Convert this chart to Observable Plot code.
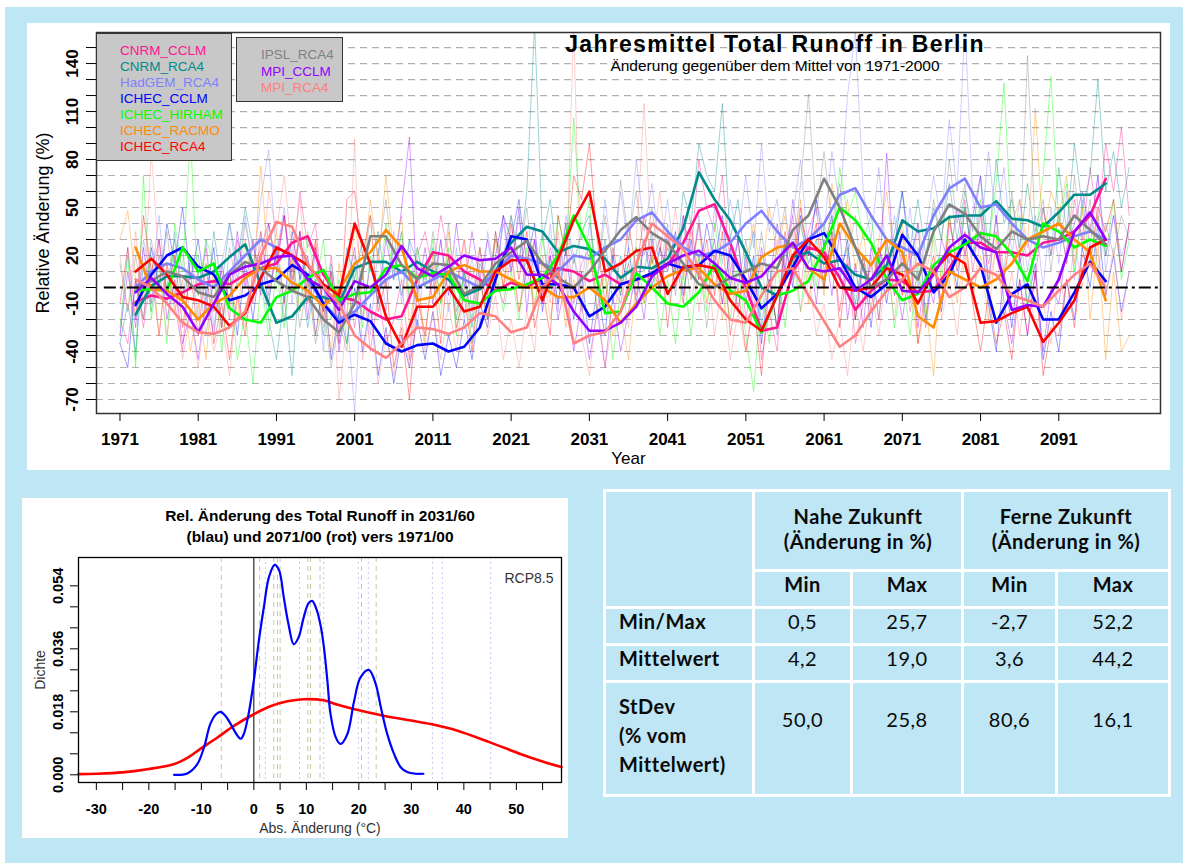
<!DOCTYPE html>
<html><head><meta charset="utf-8">
<script src="https://cdn.jsdelivr.net/npm/d3@7"></script>
<script src="https://cdn.jsdelivr.net/npm/@observablehq/plot@0.6"></script>
<style>
body{margin:0;background:#fff;width:1183px;height:863px;position:relative;overflow:hidden;font-family:"Liberation Sans",Arial,sans-serif}
#bg{position:absolute;left:5px;top:7px;width:1178px;height:856px;background:#bfe6f5}
#topPanel{position:absolute;left:27px;top:23px;width:1143px;height:447px;background:#fff}
#botPanel{position:absolute;left:22px;top:498px;width:546px;height:340px;background:#fff}
.leg{position:absolute;background:#c8c8c8;border:1.5px solid #333;box-sizing:border-box}
.legt{position:absolute;font-size:13.5px;line-height:13.5px;white-space:nowrap}
.ttl{position:absolute;text-align:center;white-space:nowrap;color:#000}
#tbl{position:absolute;left:603px;top:489px;width:568px;height:308px;background:#fff}
.cell{position:absolute;background:#bfe6f5;font-family:Lato,"Noto Sans",sans-serif;font-size:20px;letter-spacing:0.5px;color:#0a0a0a;display:flex;align-items:center;justify-content:center;text-align:center;box-sizing:border-box;white-space:pre-line}
</style></head>
<body>
<div id="bg"></div>
<div id="topPanel"></div>
<div id="botPanel"></div>
<div id="tbl"></div>
<script>
// ---------- top chart data ----------
const models = ["CNRM_CCLM","CNRM_RCA4","HadGEM_RCA4","ICHEC_CCLM","ICHEC_HIRHAM","ICHEC_RACMO","ICHEC_RCA4","IPSL_RCA4","MPI_CCLM","MPI_RCA4"];
const colors = ["#ff1493","#008b8b","#8080ff","#0000ff","#00ff00","#ff8c00","#ff0000","#808080","#9400ff","#ff8080"];
const thinYears = d3.range(1971, 2101);
const smoothYears = d3.range(1973, 2098, 2);
const yGrid = [-70,-60,-50,-40,-30,-20,-10,0,10,20,30,40,50,60,70,80,90,100,110,120,130,140,150];
const yLabels = [-70,-40,-10,20,50,80,110,140];
const xTicks = [1971,1981,1991,2001,2011,2021,2031,2041,2051,2061,2071,2081,2091];

const thinCnrmCclm = [-20,-35,5,-25,10,-30,15,-10,-40,20, -5,25,-15,10,-20,30,5,-10,35,0, 20,45,10,60,25,40,-15,20,-30,5, -25,10,-40,-5,-35,-20,5,-45,20,35, 10,45,20,0,30,-15,25,-20,5,-10, 20,-15,10,30,-5,25,5,40,-10,15, 25,-15,20,0,-10,15,-5,30,10,0, 30,15,45,20,80,50,35,70,10,30, -20,15,-45,-15,-40,20,45,0,35,50, 10,30,-15,20,-35,-10,15,-20,30,-5, 20,-15,10,-25,15,-10,40,20,55,10, 45,15,35,5,40,15,30,5,50,20, 45,15,55,30,75,40,90,60,100,45];
const thinCnrmRca4 = [-35,-10,-40,15,-15,20,0,30,-10,15, 20,-15,35,0,40,15,50,25,10,-20, -45,-5,-55,10,-25,5,-30,15,-20,25, 5,30,10,35,0,25,-5,30,15,5, 25,-10,20,-20,10,-25,15,0,30,20, 45,15,60,165,30,55,10,40,15,35, 45,5,30,-10,20,0,25,10,35,-5, 25,10,60,40,90,70,60,115,30,55, 10,35,-25,15,-30,25,5,40,15,30, 0,35,10,25,-10,20,-5,25,10,35, 60,25,55,20,50,30,65,30,60,35, 70,25,80,40,55,25,65,30,50,20, 75,35,90,50,70,130,60,85,50,75];
const thinHadgemRca4 = [-30,25,-45,30,5,45,-10,35,-5,20, -20,30,-25,15,40,5,45,10,55,86, 20,50,-10,35,0,25,-40,10,-35,-15, -78,10,-30,25,-15,35,-10,30,-25,15, 0,30,-15,25,-20,20,-25,35,5,40, 10,45,0,30,-10,40,-15,45,20,0, 40,5,55,15,60,25,80,35,65,20, 55,10,40,5,45,0,50,15,55,30, 70,25,90,35,55,10,45,80,20,55, 35,85,50,120,160,60,30,75,15,45, 10,50,0,35,70,40,105,60,165,55, 30,85,40,75,20,55,10,45,0,50, 15,60,5,55,25,70,10,45,20,35];
const thinIchecCclm = [-35,-50,5,-20,25,0,40,15,50,5, 30,-5,25,-25,10,-30,15,-20,20,-10, 25,-10,35,5,20,-30,5,-45,-15,-35, 0,-40,-10,-55,-25,-60,-30,-50,-20,-45, -15,-55,-30,-50,-20,-45,-10,-25,20,45, 30,55,15,40,-15,20,-10,25,-20,10, -35,0,-30,20,-5,25,-10,30,0,25, 10,35,-5,30,5,40,15,45,0,30, -10,20,-35,5,-25,30,0,45,20,55, 25,45,5,30,-20,15,-25,20,-10,25, 60,15,40,-20,15,-15,25,0,50,20, 35,-10,-40,10,-25,20,-10,15,-45,-15, -40,5,-20,25,0,40,-5,20,-15,10];
const thinIchecHirham = [-25,20,-50,70,-20,15,-35,40,10,95, -5,30,15,-40,10,-45,-15,-60,5,-30, 10,-25,20,-15,35,0,30,-20,5,-35, 15,-25,20,-10,40,5,35,-5,25,0, 30,-10,25,-30,10,-35,5,-20,15,-15, 10,-20,25,-15,30,0,45,20,106,30, 55,-20,10,-45,0,15,25,-10,20,-30, 5,-35,10,-30,20,-15,40,10,-20,15, -30,-65,0,-35,15,-25,20,-15,30,0, 40,20,75,45,60,30,45,5,25,-25, 10,-30,15,-20,35,5,45,15,50,20, 55,25,65,128,30,45,-15,30,70,132, 40,65,10,50,15,45,20,55,5,30];
const thinIchecRacmo = [30,48,5,-20,20,-30,15,-15,5,-40, -10,-45,15,-25,10,-20,30,0,76,10, 35,-10,20,-15,5,-30,-5,-40,15,-20, 40,5,55,15,70,20,45,-25,10,-35, 20,-20,35,0,30,5,25,-5,30,0, 25,-15,20,-10,15,-20,10,-25,5,-15, 20,-5,10,-30,-15,-45,5,-10,20,-5, 30,0,25,5,40,-10,20,-20,10,-15, 15,40,5,50,20,45,10,55,-10,25, -5,65,30,55,10,35,-5,30,60,15, 40,0,-35,-10,-55,15,30,-10,25,-5, 20,-20,30,5,40,55,25,112,30,60, 45,70,15,50,-20,30,-45,10,-40,-30];
const thinIchecRca4 = [-10,25,-20,45,10,30,-5,20,-25,10, -30,15,-35,-10,-45,-5,-30,10,25,40, 15,45,5,35,-10,30,-20,10,-35,55, 60,20,45,-15,5,-50,-25,-70,-5,-30, 10,-35,20,-25,-5,-40,5,-20,35,0, 40,5,35,-25,0,-30,45,20,70,55, 90,30,-10,25,0,40,10,45,15,30, -25,20,-10,40,5,30,-5,35,-30,0, -40,-10,-55,5,-25,35,10,50,20,40, 0,35,-25,15,-20,20,-15,25,5,30, -5,25,-35,0,20,-10,45,10,35,-10, -40,-5,-35,-15,-45,5,-30,10,-55,-25, -30,5,-25,20,15,50,35,55,10,40];
const thinIpslRca4 = [15,-15,20,-10,30,0,35,-5,25,-20, 10,-30,5,-25,25,0,40,15,35,-5, 20,-20,15,-25,5,-35,-10,-50,-20,-40, 20,5,45,20,55,10,35,-10,25,0, 35,5,40,-15,10,-20,25,-5,35,10, 45,15,50,5,35,-5,25,-15,20,-10, 30,5,45,15,67,30,60,20,50,10, 40,-5,30,-10,20,-25,15,-10,25,0, 30,-5,35,0,25,50,15,65,121,45, 85,40,65,20,45,-10,20,-20,30,-5, 35,-10,25,15,55,30,80,40,65,20, 50,5,45,10,60,20,145,35,55,10, 50,15,70,25,55,10,40,20,45,30];
const thinMpiCclm = [-30,10,-25,25,-10,30,-20,5,-35,-15, -45,-5,-30,15,-10,35,0,30,-5,40, 10,45,0,35,-20,25,-15,10,-40,0, 25,-20,15,-10,30,5,50,94,-5,25, -10,30,-5,40,0,35,5,30,0,45, 10,50,-15,30,-10,20,-20,5,-40,-10, -45,-15,-50,-5,-40,-15,10,-20,30,0, 35,0,45,10,40,5,30,-10,25,-15, 20,-15,25,0,40,10,55,20,30,-10, 30,-5,35,-20,15,-25,25,5,84,10, -20,15,-25,10,-10,30,15,50,20,45, 70,0,45,-10,-35,5,-30,10,-40,0, -10,25,40,60,35,70,20,45,10,40];
const thinMpiRca4 = [20,-15,35,-10,85,15,-30,5,-45,-15, -50,-10,-40,-20,-55,-5,-25,30,5,60, 35,70,20,55,-5,30,-25,10,-70,-20, 93,-45,-15,-60,-30,-55,-20,-50,0,-40, -15,-45,-10,-40,0,-35,10,-30,-5,-45, -20,-50,-15,-40,20,-10,35,0,165,-30, -55,-10,-50,-20,5,-25,30,115,20,60, 15,50,5,35,-15,20,-30,5,-45,-15, -40,-5,15,-20,30,0,35,-15,10,-30, -10,-45,-20,-55,-10,-40,0,-30,15,-20, 25,-5,40,10,30,-20,5,-30,20,-10, 35,0,25,-20,10,-30,5,-25,-10,-35, 10,-15,30,0,40,20,-5,25,-20,10];

const smCnrmCclm = [-9,-5,-7,-3,2,4,2,8,12,15, 28,32,8,-6,-8,-15,-20,-18,5,22, 20,10,5,-2,3,0,6,12,10,4, 8,2,5,8,14,28,48,52,28,0, -27,-25,10,25,22,6,-14,-2,5,4, -3,-2,12,28,28,22,22,20,28,30, 35,45,68];
const smCnrmRca4 = [-17,1,7,7,6,10,19,27,2,-22, -18,-6,-6,-10,12,16,16,10,16,10, 5,-5,-1,10,28,38,35,22,26,24, 18,6,13,12,18,37,72,55,42,22, 0,-5,19,22,15,17,8,5,14,42, 35,37,44,45,45,54,43,42,38,47, 58,58,65];
const smHadgemRca4 = [0,10,15,12,5,0,10,20,30,25, 20,5,-10,-20,-15,-5,5,10,0,5, 10,5,0,10,20,18,15,10,20,18, 25,30,42,47,35,25,20,22,28,40, 48,35,25,30,40,58,62,45,30,25, 20,45,62,68,50,52,40,30,25,28, 32,35,30];
const smIchecCclm = [-11,8,20,25,13,8,-8,-5,2,5, 14,8,-10,-22,-17,-21,-35,-40,-36,-35, -40,-37,-25,5,32,30,2,2,0,-18, -12,2,5,9,15,12,14,23,20,5, -13,-4,13,30,34,18,0,-6,2,33, 20,-3,8,30,14,-22,-4,2,-20,-20, -3,16,4];
const smIchecHirham = [-2,-1,-2,25,10,15,-13,-20,-22,-6, -2,6,11,-8,-4,-3,12,14,6,9, 8,-8,-10,-2,-1,2,6,20,45,25, -16,-15,9,0,-10,-12,-3,15,-2,-8, -28,-5,-2,4,25,50,42,28,5,-8, -4,14,22,27,34,32,21,4,40,35, 25,30,26];
const smIchecRacmo = [25,-1,-2,-8,-20,-10,-5,6,12,12, 3,-2,-12,-2,15,22,36,25,-8,-6, 10,14,10,10,5,0,0,-6,-6,0, -8,-22,-10,0,7,11,12,2,-4,-2, 19,25,27,12,5,40,25,14,30,22, -18,-25,10,5,0,5,15,30,35,40, 30,22,-8];
const smIchecRca4 = [10,18,8,-6,-8,-12,-24,-16,6,25, 20,14,2,-5,40,15,-18,-37,-12,-12, 0,-15,-12,10,17,17,-8,18,42,60, 10,15,23,25,-4,13,14,12,-8,-20, -27,-5,20,30,19,0,-2,0,12,8, -10,10,21,15,-22,-21,-16,-12,-34,-22, -8,25,30];
const smIpslRca4 = [0,4,10,7,-3,-6,8,16,12,4, -2,-6,-20,-28,-10,32,32,14,5,15, 14,-4,1,15,22,29,15,6,0,10, 23,36,44,34,28,15,2,0,6,10, 15,12,36,45,68,50,25,0,5,15, 5,35,52,46,32,24,35,30,32,30, 45,36,27];
const smMpiCclm = [-3,6,-4,-12,-28,-10,8,13,15,19, 20,5,0,-14,4,0,8,26,12,7, 13,20,17,18,25,8,8,2,-15,-27, -27,-22,-12,7,15,20,23,15,6,3, 7,18,28,12,10,12,-2,5,20,-2, -3,8,25,33,25,22,-14,-11,-12,5, 35,47,30];
const smMpiRca4 = [5,0,-10,-22,-28,-29,-25,-15,20,41, 38,15,0,-10,-30,-38,-44,-35,-25,-26, -29,-25,-16,-18,-28,-25,0,10,-35,-30, -28,-15,15,40,32,24,8,-8,-20,-22, -5,10,12,-5,-21,-37,-30,-15,-2,5, 15,10,-6,0,12,8,-5,-8,-12,-2, 8,15,0];

const thinSeries = [thinCnrmCclm,thinCnrmRca4,thinHadgemRca4,thinIchecCclm,thinIchecHirham,thinIchecRacmo,thinIchecRca4,thinIpslRca4,thinMpiCclm,thinMpiRca4];
const smoothSeries = [smCnrmCclm,smCnrmRca4,smHadgemRca4,smIchecCclm,smIchecHirham,smIchecRacmo,smIchecRca4,smIpslRca4,smMpiCclm,smMpiRca4];

// ---------- density data ----------
const blueX = [-15.2,-12.7,-10.8,-9.5,-8.3,-7.2,-6.35,-5.4,-4.4,-3.4,-2.5,-1.9,-1.0,0,0.95,1.9,2.86,3.95,4.8,5.7,6.6,7.6,8.5,9.5,10.4,11.1,12.0,12.8,13.35,14.0,14.6,15.6,16.5,17.8,19.1,20.3,21.9,23.2,24.2,25.4,26.7,28.0,29.3,30.8,32.3];
const blueY = [0.0000,0.0004,0.0030,0.0078,0.0145,0.0173,0.0180,0.0168,0.0145,0.0118,0.0103,0.0117,0.0174,0.0270,0.0383,0.0478,0.0564,0.0600,0.0585,0.0507,0.0430,0.0373,0.0392,0.0450,0.0490,0.0497,0.0470,0.0420,0.0364,0.0270,0.0174,0.0107,0.0088,0.0116,0.0211,0.0278,0.0300,0.0260,0.0192,0.0117,0.0060,0.0021,0.0007,0.0003,0.0003];
const redX = [-33.4,-30,-25,-20.3,-15.3,-12.5,-10.2,-7,-3.8,0,3,6.4,9.5,13.3,16,19,24.7,30,33.7,38.8,45.1,50.9,55,58.6];
const redY = [0.0002,0.0003,0.0007,0.0016,0.0030,0.0050,0.0074,0.0106,0.0140,0.0173,0.0195,0.0210,0.0216,0.0213,0.0200,0.0188,0.0169,0.0155,0.0145,0.0126,0.0092,0.0059,0.0038,0.0022];
const nearLines = [-6.2,1.1,3.8,4.5,5.0,10.3,10.8,12.6,20.5,23.3];
const farLines = [2.2,8.7,13.3,19.9,21.8,34.0,35.9,45.1];
const densXTicks = [-30,-25,-20,-15,-10,-5,0,5,10,15,20,25,30,35,40,45,50,55];
const densXLabels = [-30,-20,-10,0,5,10,20,30,40,50];
const densYTicks = [0,0.006,0.012,0.018,0.024,0.030,0.036,0.042,0.048,0.054];
const densYLabels = [0,0.018,0.036,0.054];

// ---------- table data ----------
const rowLabels = ["Min/Max","Mittelwert","StDev\n(% vom\nMittelwert)"];
const nearMin = ["0,5","4,2","50,0"];
const nearMax = ["25,7","19,0","25,8"];
const farMin = ["-2,7","3,6","80,6"];
const farMax = ["52,2","44,2","16,1"];

// ---------- top chart ----------
const FONT = "'Liberation Sans', Arial, sans-serif";
const thinMarks = models.map((m, i) => Plot.line(thinYears.map((yr, j) => ({year: yr, v: thinSeries[i][j]})),
  {x: "year", y: "v", stroke: colors[i], strokeOpacity: 0.38, strokeWidth: 1, clip: true}));
const thickMarks = models.map((m, i) => Plot.line(smoothYears.map((yr, j) => ({year: yr, v: smoothSeries[i][j]})),
  {x: "year", y: "v", stroke: colors[i], strokeWidth: 2.6, strokeLinejoin: "round", clip: true}));

const topPlot = Plot.plot({
  width: 1143, height: 447,
  marginLeft: 69, marginTop: 9, marginRight: 10, marginBottom: 57,
  x: {domain: [1968, 2104]},
  y: {domain: [-78.75, 159.4]},
  style: {background: "white", fontFamily: FONT, color: "black"},
  marks: [
    Plot.ruleY(yGrid.filter(d => d !== 0), {y: d => d, stroke: "#b0b0b0", strokeWidth: 1.2, strokeDasharray: "7,5"}),
    ...thinMarks,
    ...thickMarks,
    Plot.ruleY([{y: 0, a: 1969, b: 2104}], {y: "y", x1: "a", x2: "b", stroke: "black", strokeWidth: 2, strokeDasharray: "12,4,3,4"}),
    Plot.frame({stroke: "#333", strokeWidth: 1.5}),
    Plot.axisX({ticks: xTicks, tickSize: 8, tickPadding: 11, tickFormat: d => String(d), fontSize: 17, fontWeight: "bold", label: null}),
    Plot.axisY({ticks: yGrid, tickSize: 10, tickFormat: () => "", label: null}),
    Plot.text(yLabels, {y: d => d, text: d => String(d), frameAnchor: "left", dx: -24, rotate: -90, textAnchor: "middle", lineAnchor: "middle", fontSize: 17, fontWeight: "bold"}),
    Plot.text(["Year"], {text: d => d, frameAnchor: "bottom", dy: 45, lineAnchor: "middle", fontSize: 17}),
    Plot.text(["Relative Änderung (%)"], {text: d => d, frameAnchor: "left", dx: -53, rotate: -90, textAnchor: "middle", lineAnchor: "middle", fontSize: 18})
  ]
});
document.getElementById("topPanel").appendChild(topPlot);

// titles & legends as overlays
function addDiv(cls, styles, text, parent) {
  const d = document.createElement("div");
  d.className = cls;
  Object.assign(d.style, styles);
  if (text != null) d.textContent = text;
  (parent || document.body).appendChild(d);
  return d;
}
// title: 23px, baseline ~52.5 ; subtitle 15.5px, baseline ~71
addDiv("ttl", {left: "375px", width: "800px", top: "33px", fontSize: "23px", lineHeight: "23px", fontWeight: "bold", letterSpacing: "1.3px"}, "Jahresmittel Total Runoff in Berlin");
addDiv("ttl", {left: "375px", width: "800px", top: "57.5px", fontSize: "15.5px", lineHeight: "15.5px"}, "Änderung gegenüber dem Mittel von 1971-2000");

const leg1 = addDiv("leg", {left: "96px", top: "33px", width: "135.5px", height: "128px"});
const leg1Centers = [50, 65.8, 81.7, 97.5, 113.4, 129.3, 145.2];
for (let i = 0; i < 7; i++) addDiv("legt", {left: "23px", top: (leg1Centers[i] - 6.6 - 33) + "px", color: colors[i]}, models[i], leg1);
const leg2 = addDiv("leg", {left: "236px", top: "37px", width: "107px", height: "65px"});
const leg2Centers = [54, 70.3, 86.6];
for (let i = 0; i < 3; i++) addDiv("legt", {left: "24px", top: (leg2Centers[i] - 6.6 - 37) + "px", color: colors[7 + i]}, models[7 + i], leg2);

// ---------- density chart ----------
const labelSet = new Set(densXLabels);
const densPlot = Plot.plot({
  width: 546, height: 340,
  marginLeft: 56, marginTop: 59, marginRight: 7, marginBottom: 56,
  x: {domain: [-33.4, 58.6]},
  y: {domain: [-0.0022, 0.0621]},
  style: {background: "white", fontFamily: FONT, color: "black"},
  marks: [
    Plot.ruleX(nearLines, {x: d => d, stroke: "#c8c8a2", strokeWidth: 1, strokeDasharray: "5,4"}),
    Plot.ruleX(farLines, {x: d => d, stroke: "#c6c6f2", strokeWidth: 1, strokeDasharray: "2,3"}),
    Plot.ruleX([0], {x: d => d, stroke: "black", strokeWidth: 1}),
    Plot.line(redX.map((x, i) => ({x, y: redY[i]})), {x: "x", y: "y", stroke: "#ff0000", strokeWidth: 2.6, curve: "catmull-rom"}),
    Plot.line(blueX.map((x, i) => ({x, y: blueY[i]})), {x: "x", y: "y", stroke: "#0000ff", strokeWidth: 2.2, curve: "catmull-rom"}),
    Plot.frame({stroke: "black", strokeWidth: 1.3}),
    Plot.axisX({ticks: densXTicks, tickSize: 8, tickPadding: 13, tickFormat: d => labelSet.has(d) ? String(d) : "", fontSize: 14.5, fontWeight: "bold", label: null}),
    Plot.axisY({ticks: densYTicks, tickSize: 8, tickFormat: () => "", label: null}),
    Plot.text(densYLabels, {y: d => d, text: d => d.toFixed(3), frameAnchor: "left", dx: -20, rotate: -90, textAnchor: "middle", lineAnchor: "middle", fontSize: 14.5, fontWeight: "bold"}),
    Plot.text(["Dichte"], {text: d => d, frameAnchor: "left", dx: -38, rotate: -90, textAnchor: "middle", lineAnchor: "middle", fontSize: 14, fill: "#333"}),
    Plot.text(["Abs. Änderung (°C)"], {text: d => d, frameAnchor: "bottom", dy: 46, lineAnchor: "middle", fontSize: 14, fill: "#333"}),
    Plot.text(["Rel. Änderung des Total Runoff in 2031/60"], {text: d => d, frameAnchor: "top", dy: -41, lineAnchor: "middle", fontSize: 15.5, fontWeight: "bold"}),
    Plot.text(["(blau) und 2071/00 (rot) vers 1971/00"], {text: d => d, frameAnchor: "top", dy: -20.5, lineAnchor: "middle", fontSize: 15.5, fontWeight: "bold"}),
    Plot.text(["RCP8.5"], {text: d => d, frameAnchor: "top-right", dx: -8, dy: 21, textAnchor: "end", lineAnchor: "middle", fontSize: 14, fill: "#333"})
  ]
});
document.getElementById("botPanel").appendChild(densPlot);

// ---------- table ----------
const X = [603, 752, 850, 961, 1055, 1168];
const Y = [489, 569, 606, 643, 680, 794];
const tbl = document.getElementById("tbl");
function cell(c0, c1, r0, r1, text, extra) {
  return addDiv("cell", Object.assign({
    left: (X[c0] + 3 - 603) + "px", width: (X[c1] - X[c0] - 3) + "px",
    top: (Y[r0] + 3 - 489) + "px", height: (Y[r1] - Y[r0] - 3) + "px"
  }, extra || {}), text, tbl);
}
cell(0, 1, 0, 2, "");
cell(1, 3, 0, 1, "Nahe Zukunft\n(Änderung in %)", {fontWeight: "bold", lineHeight: "25px", paddingBottom: "4px"});
cell(3, 5, 0, 1, "Ferne Zukunft\n(Änderung in %)", {fontWeight: "bold", lineHeight: "25px", paddingBottom: "4px"});
["Min", "Max", "Min", "Max"].forEach((t, i) => cell(1 + i, 2 + i, 1, 2, t, {fontWeight: "bold", paddingBottom: "11px"}));
const cols = [nearMin, nearMax, farMin, farMax];
for (let r = 0; r < 3; r++) {
  const last = r === 2;
  cell(0, 1, 2 + r, 3 + r, rowLabels[r], Object.assign({fontWeight: "bold", justifyContent: "flex-start", textAlign: "left", paddingLeft: "13px"},
    last ? {alignItems: "flex-start", paddingTop: "9px", lineHeight: "29px"} : {paddingBottom: "10px"}));
  for (let c = 0; c < 4; c++) {
    cell(1 + c, 2 + c, 2 + r, 3 + r, cols[c][r], last ? {alignItems: "flex-start", paddingTop: "24px"} : {paddingBottom: "10px"});
  }
}
</script>
</body></html>
